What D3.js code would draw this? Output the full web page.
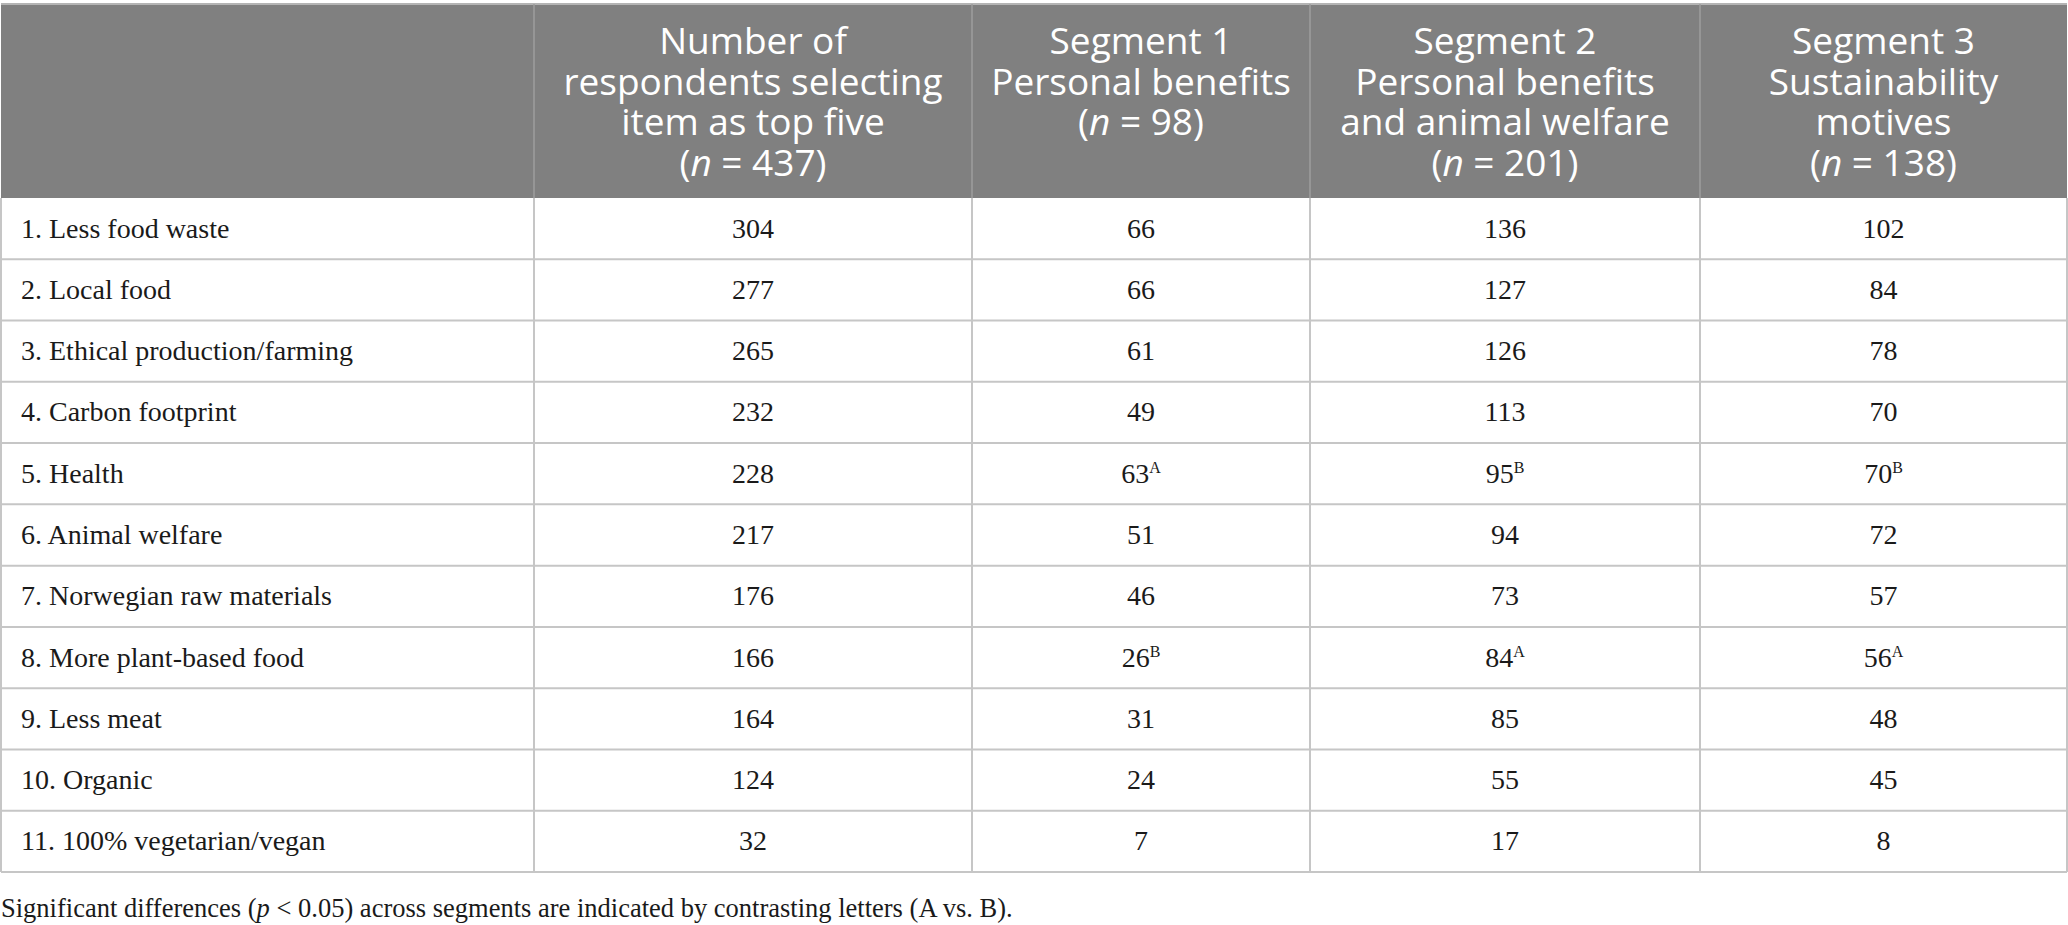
<!DOCTYPE html>
<html>
<head>
<meta charset="utf-8">
<script src="https://cdn.jsdelivr.net/npm/d3@7"></script>
<style>
  body { margin: 0; background: #fff; }
  svg { display: block; }
</style>
</head>
<body>
<div id="table-container"></div>
<script>
// Table content
const items = [
    "1. Less food waste",
    "2. Local food",
    "3. Ethical production/farming",
    "4. Carbon footprint",
    "5. Health",
    "6. Animal welfare",
    "7. Norwegian raw materials",
    "8. More plant-based food",
    "9. Less meat",
    "10. Organic",
    "11. 100% vegetarian/vegan"
];
const totalCounts = [304, 277, 265, 232, 228, 217, 176, 166, 164, 124, 32];
const segment1 = [66, 66, 61, 49, 63, 51, 46, 26, 31, 24, 7];
const segment2 = [136, 127, 126, 113, 95, 94, 73, 84, 85, 55, 17];
const segment3 = [102, 84, 78, 70, 70, 72, 57, 56, 48, 45, 8];
const segment1Sig = ["", "", "", "", "A", "", "", "B", "", "", ""];
const segment2Sig = ["", "", "", "", "B", "", "", "A", "", "", ""];
const segment3Sig = ["", "", "", "", "B", "", "", "A", "", "", ""];

const headerLines = [
    [],
    ["Number of", "respondents selecting", "item as top five"],
    ["Segment 1", "Personal benefits"],
    ["Segment 2", "Personal benefits", "and animal welfare"],
    ["Segment 3", "Sustainability", "motives"]
];
const sampleSizes = [null, 437, 98, 201, 138];
const footnote = ["Significant differences (", "p", " < 0.05) across segments are indicated by contrasting letters (A vs. B)."];

// Layout
const width = 2068, height = 925;
const tableTop = 4, headerBottom = 198, tableBottom = 872;
const colEdges = [1, 534, 972, 1310, 1700, 2067];
const lineGap = 40.5;

const svg = d3.select("#table-container")
    .append("svg")
    .attr("width", width)
    .attr("height", height);

const y = d3.scaleBand()
    .domain(items)
    .range([headerBottom, tableBottom]);

const colCenter = i => (colEdges[i] + colEdges[i + 1]) / 2;

// header background
svg.append("rect")
    .attr("x", colEdges[0])
    .attr("y", tableTop)
    .attr("width", colEdges[5] - colEdges[0])
    .attr("height", headerBottom - tableTop)
    .attr("fill", "#808080");

svg.append("line")
    .attr("x1", colEdges[0]).attr("x2", colEdges[5])
    .attr("y1", tableTop).attr("y2", tableTop)
    .attr("stroke", "#b4b4b4")
    .attr("stroke-width", 2);

// header separators
svg.selectAll(".head-sep")
    .data(colEdges.slice(1, 5))
  .enter().append("line")
    .attr("class", "head-sep")
    .attr("x1", d => d).attr("x2", d => d)
    .attr("y1", tableTop).attr("y2", headerBottom)
    .attr("stroke", "#9e9e9e")
    .attr("stroke-width", 1.5);

// header text, one element per line
const headFont = "'Open Sans', sans-serif";
headerLines.forEach((lines, i) => {
    if (i === 0) return;
    lines.forEach((line, j) => {
        svg.append("text")
            .attr("x", colCenter(i))
            .attr("y", 54 + j * lineGap)
            .attr("text-anchor", "middle")
            .attr("fill", "#fff")
            .style("font-family", headFont)
            .style("font-size", "37px")
            .text(line);
    });
    const nLine = svg.append("text")
        .attr("x", colCenter(i))
        .attr("y", 54 + lines.length * lineGap)
        .attr("text-anchor", "middle")
        .attr("fill", "#fff")
        .style("font-family", headFont)
        .style("font-size", "37px");
    nLine.append("tspan").text("(");
    nLine.append("tspan").style("font-style", "italic").text("n");
    nLine.append("tspan").text(` = ${sampleSizes[i]})`);
});

// grid lines
const rowEdges = items.map(d => y(d) + y.bandwidth());
svg.selectAll(".row-line")
    .data(rowEdges)
  .enter().append("line")
    .attr("class", "row-line")
    .attr("x1", colEdges[0]).attr("x2", colEdges[5])
    .attr("y1", d => d).attr("y2", d => d)
    .attr("stroke", "#c6c6c6")
    .attr("stroke-width", 2);

svg.selectAll(".col-line")
    .data(colEdges)
  .enter().append("line")
    .attr("class", "col-line")
    .attr("x1", d => d).attr("x2", d => d)
    .attr("y1", headerBottom).attr("y2", tableBottom)
    .attr("stroke", "#c6c6c6")
    .attr("stroke-width", 2);

// body cells
const bodyFont = "'Liberation Serif', 'Times New Roman', serif";
const baseline = d => y(d) + y.bandwidth() / 2 + 9;

svg.selectAll(".item-label")
    .data(items)
  .enter().append("text")
    .attr("class", "item-label")
    .attr("x", 21)
    .attr("y", d => baseline(d))
    .attr("fill", "#1a1a1a")
    .style("font-family", bodyFont)
    .style("font-size", "28px")
    .text(d => d);

const valueColumns = [
    { values: totalCounts, sig: null },
    { values: segment1, sig: segment1Sig },
    { values: segment2, sig: segment2Sig },
    { values: segment3, sig: segment3Sig }
];

valueColumns.forEach((col, ci) => {
    const cells = svg.selectAll(".val-" + ci)
        .data(items)
      .enter().append("text")
        .attr("class", "val-" + ci)
        .attr("x", colCenter(ci + 1))
        .attr("y", d => baseline(d))
        .attr("text-anchor", "middle")
        .attr("fill", "#1a1a1a")
        .style("font-family", bodyFont)
        .style("font-size", "28px");
    cells.append("tspan").text((d, i) => col.values[i]);
    cells.filter((d, i) => col.sig && col.sig[i] !== "")
        .append("tspan")
        .attr("dy", -10)
        .style("font-size", "16px")
        .text(d => col.sig[items.indexOf(d)]);
});

// footnote
const note = svg.append("text")
    .attr("x", 1)
    .attr("y", 917)
    .attr("fill", "#1a1a1a")
    .style("font-family", bodyFont)
    .style("font-size", "26.5px");
note.append("tspan").text(footnote[0]);
note.append("tspan").style("font-style", "italic").text(footnote[1]);
note.append("tspan").text(footnote[2]);
</script>
</body>
</html>
